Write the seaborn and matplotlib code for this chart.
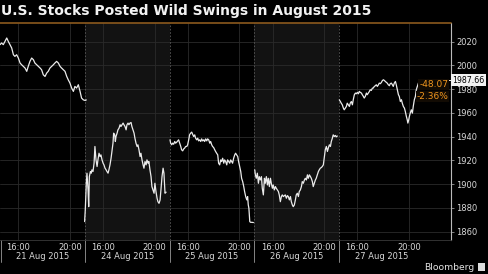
import numpy as np
import pandas as pd
import matplotlib
matplotlib.use("Agg")
import matplotlib.pyplot as plt
import matplotlib.transforms as mtransforms
from matplotlib.patches import Rectangle
import seaborn as sns

# ---------------- DATA ----------------
day_labels = ["21 Aug 2015", "24 Aug 2015", "25 Aug 2015", "26 Aug 2015", "27 Aug 2015"]
shaded_days = ["24 Aug 2015", "26 Aug 2015"]
prev_close = 2035.73
last_value = 1987.66
change_text = "-48.07"
pct_text = "-2.36%"
y_ticks = [1860, 1880, 1900, 1920, 1940, 1960, 1980, 2000, 2020]
time_tick_hours = [16.0, 20.0]
time_tick_labels = ["16:00", "20:00"]

# minutes after 14:30 (London time) and S&P 500 level
aug21_min = [5, 12, 20, 28, 36, 43, 51, 59, 67, 74, 82, 90, 98, 105, 113, 121, 129, 136, 144, 152,
             160, 167, 175, 183, 191, 198, 206, 214, 222, 229, 237, 245, 253, 260, 268, 276, 284, 291,
             299, 307, 315, 322, 330, 338, 346, 353, 361, 369, 377, 384, 392, 400, 406]
aug21_val = [2017.5, 2018.9, 2017.5, 2020.3, 2023.1, 2020.3, 2017.5, 2014.7, 2009.0, 2007.6, 2009.0,
             2006.2, 2002.0, 2000.6, 1999.2, 1997.8, 1995.0, 1999.2, 2003.4, 2006.2, 2004.8, 2002.0,
             2000.6, 1999.2, 1997.8, 1996.4, 1992.1, 1990.7, 1993.6, 1995.0, 1997.8, 1999.2, 2000.6,
             2002.0, 2003.4, 2002.0, 1999.2, 1997.8, 1996.4, 1995.0, 1990.7, 1987.9, 1985.1, 1980.9,
             1978.1, 1982.3, 1980.9, 1983.7, 1978.1, 1972.5, 1971.0, 1970.5, 1970.9]

aug24_min = [4, 7, 12, 15, 20, 23, 26, 31, 35, 38, 43, 48, 52, 57, 62, 66, 71, 76, 80, 85, 90, 94, 99,
             104, 108, 113, 117, 122, 127, 131, 136, 139, 144, 147, 150, 155, 159, 164, 169, 173, 178,
             183, 187, 192, 197, 201, 206, 210, 215, 220, 224, 229, 234, 238, 243, 248, 252, 257, 262,
             266, 271, 276, 280, 285, 290, 294, 299, 303, 308, 313, 317, 322, 327, 331, 336, 341, 345,
             350, 355, 359, 364, 369, 373, 378, 383]
aug24_val = [1868.4, 1878.2, 1900.7, 1909.2, 1895.1, 1881.0, 1906.3, 1910.6, 1909.2,
             1912.0, 1910.6, 1917.6, 1931.7, 1920.4, 1914.8, 1920.4, 1926.0, 1923.2, 1924.6, 1920.4,
             1917.6, 1916.2, 1913.4, 1912.0, 1910.6, 1909.2, 1912.0, 1916.2, 1921.8, 1927.4, 1934.5,
             1942.9, 1941.5, 1935.9, 1940.1,
             1942.9, 1945.7, 1947.1, 1950.0, 1948.5, 1950.0, 1951.4, 1950.0, 1948.5, 1945.7,
             1950.0, 1951.4, 1950.0, 1951.4, 1951.9, 1948.5, 1945.7, 1942.9, 1938.7, 1934.5,
             1931.7, 1933.1, 1928.8, 1923.2, 1926.0, 1920.4, 1916.2, 1913.4, 1919.0, 1916.2,
             1920.4, 1917.6, 1919.0, 1912.0, 1906.3, 1897.9, 1895.1, 1892.3, 1900.7, 1893.7,
             1888.1, 1885.2, 1883.8, 1886.6, 1895.1, 1906.3, 1913.4, 1909.2, 1892.3, 1893.2]

aug25_min = [7, 10, 15, 19, 24, 29, 33, 38, 43, 47, 52, 57, 61, 66, 71, 75, 80, 85, 89, 94, 98, 103,
             108, 112, 117, 122, 126, 131, 136, 140, 145, 150, 154, 159, 164, 168, 173, 178, 182, 187,
             192, 196, 201, 205, 210, 215, 219, 224, 229, 233, 238, 243, 247, 252, 257, 261, 266, 271,
             275, 280, 285, 289, 294, 298, 303, 308, 312, 317, 322, 326, 331, 336, 340, 345, 350, 354,
             359, 364, 368, 371, 374, 378, 382, 388, 395]
aug25_val = [1937.3, 1934.5, 1933.1, 1934.5, 1933.6, 1935.9, 1934.5, 1935.3, 1936.4, 1937.3,
             1934.5, 1931.7, 1928.9, 1928.0, 1929.7, 1930.3, 1931.7, 1931.7, 1933.1, 1937.3,
             1941.5, 1942.9, 1943.8, 1942.1, 1940.1, 1941.5, 1938.7, 1937.3, 1938.7, 1936.4,
             1937.3, 1935.9, 1938.1, 1936.4, 1937.3, 1935.9, 1938.1, 1936.4, 1938.1, 1937.3,
             1934.5, 1935.9, 1933.1, 1931.7, 1930.8, 1928.9, 1927.5, 1926.0, 1924.6, 1917.6,
             1916.2, 1920.4, 1919.0, 1921.8, 1917.6, 1920.4, 1919.0, 1916.2, 1920.4, 1919.0,
             1917.6, 1920.4, 1919.0, 1917.6, 1921.8, 1924.6, 1926.0, 1924.6, 1923.2, 1919.0,
             1914.8, 1910.6, 1904.9, 1902.1, 1897.9, 1893.7, 1889.5, 1886.7, 1889.5,
             1882.5, 1879.6, 1868.4, 1867.8, 1867.8, 1867.6]

aug26_min = [7, 10, 14, 19, 24, 28, 33, 38, 42, 47, 52, 56, 61, 66, 70, 75, 80, 84, 89, 93, 98, 103,
             107, 112, 117, 121, 126, 131, 135, 140, 145, 149, 154, 159, 163, 168, 173, 177, 182, 186,
             191, 196, 200, 205, 210, 214, 219, 224, 228, 233, 238, 242, 247, 252, 256, 261, 266, 270,
             275, 279, 284, 289, 293, 298, 303, 307, 312, 317, 321, 326, 331, 335, 340, 345, 349, 354,
             359, 363, 368, 372, 377, 382, 386, 391]
aug26_val = [1912.0, 1907.8, 1904.9, 1909.2, 1900.7, 1906.3, 1903.5, 1906.3, 1896.5, 1890.9,
             1904.9, 1900.7, 1906.3, 1899.3, 1904.9, 1897.9, 1904.9, 1900.7, 1896.5, 1899.3,
             1895.1, 1897.9, 1896.5, 1895.1, 1893.7, 1890.9, 1885.2, 1889.5, 1890.9, 1889.5,
             1890.3, 1890.9, 1888.1, 1890.3, 1889.5, 1886.7, 1889.5, 1885.2, 1882.4, 1881.0,
             1882.4, 1886.7, 1890.9, 1892.3, 1889.5, 1893.7, 1895.1, 1897.9, 1902.1, 1900.7,
             1903.5, 1904.9, 1903.5, 1907.8, 1904.9, 1907.8, 1906.3, 1904.9, 1902.1, 1897.9,
             1900.7, 1903.5, 1904.9, 1907.8, 1910.6, 1912.0, 1913.4, 1914.0, 1914.8, 1916.2,
             1923.2, 1928.9, 1931.7, 1927.5, 1930.3, 1933.1, 1931.7, 1935.9, 1938.7, 1941.5,
             1940.1, 1941.0, 1939.8, 1940.5]

aug27_min = [6, 11, 15, 20, 25, 29, 34, 39, 43, 48, 53, 57, 62, 67, 71, 76, 81, 85, 90, 95, 99, 104,
             109, 113, 118, 122, 127, 132, 136, 141, 146, 150, 155, 160, 164, 169, 174, 178, 183, 188,
             192, 197, 202, 206, 211, 215, 220, 225, 229, 234, 239, 243, 248, 253, 257, 262, 267, 271,
             276, 281, 285, 290, 295, 299, 304, 309, 313, 318, 322, 325, 329, 332, 336, 341, 346, 350,
             355, 360, 364, 369, 374, 378, 386, 394]
aug27_val = [1971.0, 1969.6, 1968.2, 1966.8, 1964.0, 1962.6, 1964.0, 1965.4, 1968.2, 1966.8,
             1965.4, 1968.2, 1969.6, 1966.8, 1971.1, 1975.3, 1976.7, 1976.1, 1977.2, 1976.1,
             1978.1, 1977.2, 1976.7, 1975.3, 1973.9, 1972.5, 1973.9, 1976.7, 1975.3, 1976.7,
             1978.1, 1979.5, 1978.9, 1980.9, 1980.9, 1982.3, 1982.9, 1983.7, 1982.3, 1983.7,
             1985.1, 1984.6, 1985.7, 1987.1, 1987.9, 1987.4, 1986.5, 1985.7, 1985.1, 1983.7,
             1982.9, 1984.6, 1985.1, 1983.7, 1982.3, 1985.1, 1986.5, 1983.7, 1979.5, 1975.3,
             1973.9, 1969.6, 1971.1, 1968.2, 1965.4, 1964.0, 1961.2, 1957.0, 1954.2,
             1951.4, 1954.2, 1957.0,
             1959.8, 1962.6, 1959.8, 1965.4, 1971.1, 1973.9, 1979.5, 1982.3, 1985.1, 1986.5,
             1987.66, 1987.66]

day_minutes = [aug21_min, aug24_min, aug25_min, aug26_min, aug27_min]
day_values = [aug21_val, aug24_val, aug25_val, aug26_val, aug27_val]

# ---------------- LAYOUT CONSTANTS ----------------
DAY_W = 6.57        # width of one session slot on the x axis (hours)
OPEN_H = 14.5       # 14:30
BG = "#000000"
BAND = "#121212"
GRID = "#2a2a2a"
LINE = "#ebebeb"
TXT = "#d8d8d8"
ORANGE = "#f0961e"
REF = "#8c5a1e"

frames = []
for d, (mins, vals) in enumerate(zip(day_minutes, day_values)):
    frames.append(pd.DataFrame({"x": [d * DAY_W + m / 60.0 for m in mins],
                                "value": vals, "day": day_labels[d]}))
df = pd.concat(frames, ignore_index=True)

sns.set_theme(style="dark")
plt.rcParams["font.family"] = ["DejaVu Sans"]

fig = plt.figure(figsize=(4.88, 2.74), dpi=100, facecolor=BG)
ax = fig.add_axes([0.0, 34 / 274, 451 / 488, 217 / 274])
ax.set_facecolor(BG)

x0 = 0.0775
x1 = 35.04
ax.set_xlim(x0, x1)
ax.set_ylim(1852.9, prev_close)

# shaded session bands
for d, lab in enumerate(day_labels):
    if lab in shaded_days:
        ax.axvspan(d * DAY_W + 0.08, (d + 1) * DAY_W + 0.08, color=BAND, zorder=0, lw=0)

# grid
xt, xl = [], []
for d in range(len(day_labels)):
    for h, l in zip(time_tick_hours, time_tick_labels):
        xt.append(d * DAY_W + (h - OPEN_H))
        xl.append(l)
ax.set_xticks(xt)
ax.set_xticklabels(xl)
ax.set_yticks(y_ticks)
ax.set_yticklabels([str(v) for v in y_ticks])
ax.grid(True, color=GRID, lw=0.6, zorder=1)
ax.set_axisbelow(True)

# day separators (dashed inside, solid below)
trans = mtransforms.blended_transform_factory(ax.transData, ax.transAxes)
for d in range(1, len(day_labels)):
    xb = d * DAY_W + 0.08
    ax.axvline(xb, color="#5a5a5a", lw=0.6, ls=(0, (2, 2)), zorder=1)
for d in range(len(day_labels)):
    xb = d * DAY_W + 0.08 if d > 0 else x0 + 0.05
    ax.plot([xb, xb], [0, -0.10], transform=trans, color="#9a9a9a", lw=0.6, clip_on=False)
    ax.text(d * DAY_W + 0.08 + DAY_W / 2, -0.078, day_labels[d], transform=trans,
            ha="center", va="center", color=TXT, fontsize=6)

# series
sns.lineplot(data=df, x="x", y="value", units="day", estimator=None, color=LINE,
             lw=0.9, ax=ax, legend=False, zorder=3)

# previous close reference line
ax.axhline(prev_close, color=REF, lw=1.2, zorder=4, clip_on=False)

# last value marker line
ax.plot([df["x"].iloc[-1], x1], [last_value, last_value], color=LINE, lw=0.7, zorder=3)

# axes styling
for s in ["top", "left"]:
    ax.spines[s].set_visible(False)
ax.spines["right"].set_color("#bbbbbb")
ax.spines["right"].set_linewidth(0.8)
ax.spines["bottom"].set_color("#3a3a3a")
ax.spines["bottom"].set_linewidth(0.6)
ax.yaxis.tick_right()
ax.tick_params(axis="y", colors="#999999", labelcolor=TXT, labelsize=6, length=2.5,
               width=0.6, pad=1.5, direction="out")
ax.tick_params(axis="x", colors="#999999", labelcolor=TXT, labelsize=6, length=0, pad=2)
ax.set_xlabel("")
ax.set_ylabel("")

# annotations
ytrans = mtransforms.blended_transform_factory(ax.transAxes, ax.transData)
ax.text(1.003, last_value, "1987.66", transform=ytrans, ha="left", va="center",
        fontsize=5.7, color="#000000",
        bbox=dict(boxstyle="square,pad=0.15", fc="#f2f2f2", ec="none"), zorder=6, clip_on=False)
ax.text(0.994, 1983.6, change_text, transform=ytrans, ha="right", va="center",
        fontsize=6.5, color=ORANGE,
        bbox=dict(boxstyle="square,pad=0.1", fc="#120b03", ec="none"), zorder=5)
ax.text(0.994, 1973.8, pct_text, transform=ytrans, ha="right", va="center",
        fontsize=6.5, color=ORANGE,
        bbox=dict(boxstyle="square,pad=0.1", fc="#120b03", ec="none"), zorder=5)

# title
fig.text(0.002, 1 - 15.5 / 274, "U.S. Stocks Posted Wild Swings in August 2015",
         ha="left", va="baseline", color="#f2f2f2", fontsize=10, fontweight="bold")

# branding
fig.text(474 / 488, 1 - 267 / 274, "Bloomberg", ha="right", va="center",
         color="#e6e6e6", fontsize=6.6)
fig.patches.append(Rectangle((478 / 488, 1 - 271 / 274), 7 / 488, 8 / 274,
                             transform=fig.transFigure, fc="#dddddd", ec="none"))

fig.savefig("out.png", dpi=100, facecolor=BG)
